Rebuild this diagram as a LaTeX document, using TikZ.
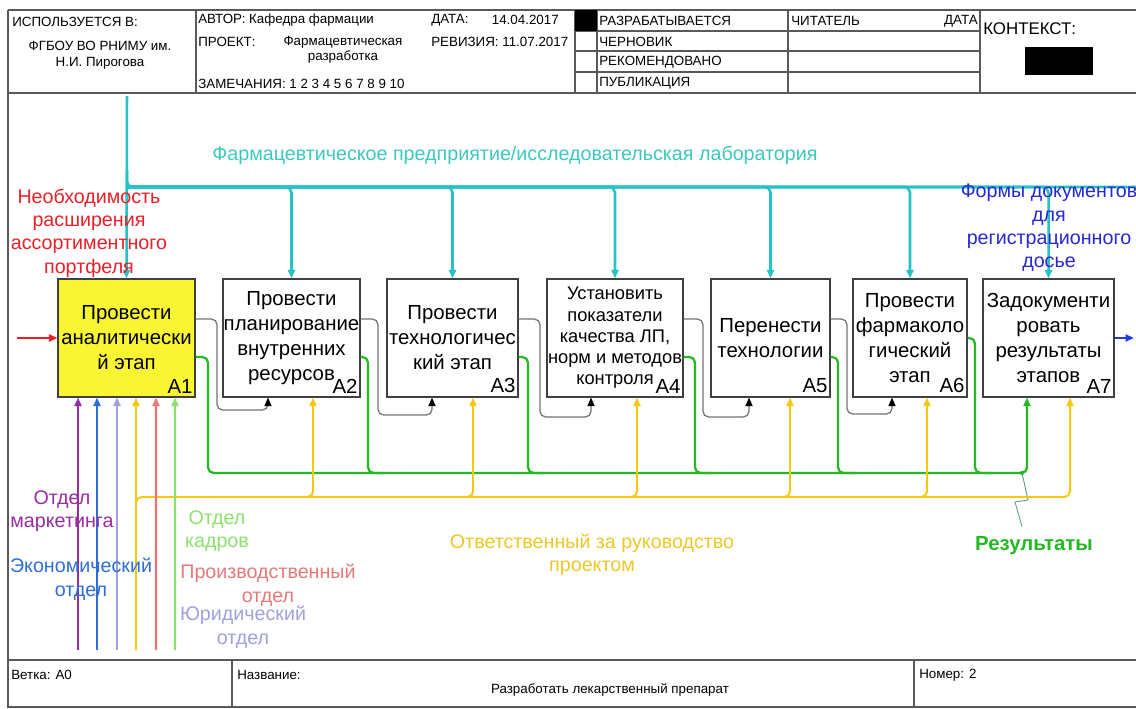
\documentclass[tikz,border=0pt]{standalone}
\usepackage{fontspec}
\setmainfont{Liberation Sans}
\usepackage{tikz}
\usetikzlibrary{positioning}
\usetikzlibrary{arrows.meta}

\definecolor{idcyan}{RGB}{38,194,196}
\definecolor{idcyantxt}{RGB}{60,200,190}
\definecolor{idred}{RGB}{232,32,40}
\definecolor{iddocblue}{RGB}{40,40,210}
\definecolor{idoutblue}{RGB}{30,60,230}
\definecolor{idpurple}{RGB}{150,45,160}
\definecolor{idecon}{RGB}{45,110,215}
\definecolor{idlav}{RGB}{160,160,225}
\definecolor{idyel}{RGB}{245,200,20}
\definecolor{idyeltxt}{RGB}{235,200,40}
\definecolor{idsalmon}{RGB}{232,120,120}
\definecolor{idlgreen}{RGB}{140,225,110}
\definecolor{idgreen}{RGB}{35,185,35}
\definecolor{idfill}{RGB}{250,245,50}
\definecolor{idsq}{RGB}{90,150,140}

\begin{document}
\begin{tikzpicture}[x=0.025cm,y=-0.025cm,
	proc/.style={draw=black!75,line width=0.8pt,minimum height=2.95cm,inner sep=0pt,align=center,font=\fontsize{14.5}{17.8}\selectfont},
	anum/.style={font=\fontsize{14.5}{16}\selectfont,inner sep=0pt},
	lbl/.style={align=center,font=\fontsize{14}{16.6}\selectfont,inner sep=0pt},
	hd/.style={font=\fontsize{9.5}{11}\selectfont,inner sep=0pt},
	frm/.style={draw=black!65,line width=0.8pt},
	atip/.style={-{Triangle[length=6pt,width=5pt]}},
	gtip/.style={-{Triangle[length=6pt,width=5pt,color=black]}},
	gry/.style={draw=black!55,line width=0.9pt,rounded corners=4pt,gtip},
	cyl/.style={draw=idcyan,line width=1.8pt,rounded corners=4pt},
	grl/.style={draw=idgreen,line width=1.6pt,rounded corners=4pt},
	yll/.style={draw=idyel,line width=1.4pt,rounded corners=4pt},
	ctl/.style={line width=1.6pt,atip}]
	\useasboundingbox (0,0) rectangle (1136,709);
	%% frame and header
	\draw[frm] (8,10) -- (1136,10);
	\draw[frm] (8,93) -- (1136,93);
	\draw[frm] (8,10) -- (8,707) -- (1136,707);
	\draw[frm] (196,10) -- (196,93);
	\draw[frm] (575,10) -- (575,93);
	\draw[frm] (597,10) -- (597,93);
	\draw[frm] (788,10) -- (788,93);
	\draw[frm] (980,10) -- (980,93);
	\draw[frm] (575,31) -- (980,31);
	\draw[frm] (575,51) -- (980,51);
	\draw[frm] (575,72) -- (980,72);
	\fill (575,10) rectangle (597,31);
	\fill (1025,47) rectangle (1093,75);
	\node[hd,anchor=west] (h1) at (12,22) {ИСПОЛЬЗУЕТСЯ В:};
	\node[hd,align=center] (h2) at (100,55) {ФГБОУ ВО РНИМУ им.\\Н.И. Пирогова};
	\node[hd,anchor=west] (h3) at (198,20) {АВТОР: Кафедра фармации};
	\node[hd,anchor=west] (h4) at (431,20) {ДАТА:};
	\node[hd,anchor=east] (h5) at (559,20) {14.04.2017};
	\node[hd,anchor=west] (h6) at (198,42) {ПРОЕКТ:};
	\node[hd,align=center] (h7) at (343,50) {Фармацевтическая\\разработка};
	\node[hd,anchor=west] (h8) at (431,42) {РЕВИЗИЯ: 11.07.2017};
	\node[hd,anchor=west] (h9) at (198,84) {ЗАМЕЧАНИЯ: 1 2 3 4 5 6 7 8 9 10};
	\node[hd,anchor=west] (s1) at (599,21) {РАЗРАБАТЫВАЕТСЯ};
	\node[hd,anchor=west] (s2) at (599,42) {ЧЕРНОВИК};
	\node[hd,anchor=west] (s3) at (599,62) {РЕКОМЕНДОВАНО};
	\node[hd,anchor=west] (s4) at (599,83) {ПУБЛИКАЦИЯ};
	\node[hd,anchor=west] (s5) at (791,21) {ЧИТАТЕЛЬ};
	\node[hd,anchor=east] (s6) at (978,21) {ДАТА};
	\node[anchor=west,inner sep=0pt,font=\fontsize{12}{14}\selectfont] (ctx) at (983,29) {КОНТЕКСТ:};
	%% footer
	\draw[frm] (8,660) -- (1136,660);
	\draw[frm] (232,660) -- (232,707);
	\draw[frm] (914,660) -- (914,707);
	\node[hd,anchor=west] (f1) at (11,675) {Ветка: A0};
	\node[hd,anchor=west] (f2) at (237,675) {Название:};
	\node[hd] (f3) at (610,690) {Разработать лекарственный препарат};
	\node[hd,anchor=west] (f4) at (919,675) {Номер: 2};
	%% blocks
	\node[proc,fill=idfill,minimum width=3.425cm] (b1) at (126.5,338) {Провести\\аналитически\\й этап};
	\node[proc,minimum width=3.425cm] (b2) at (291.5,338) {Провести\\планирование\\внутренних\\ресурсов};
	\node[proc,minimum width=3.275cm] (b3) at (452.5,338) {Провести\\технологичес\\кий этап};
	\node[proc,minimum width=3.4cm,font=\fontsize{13}{15.1}\selectfont] (b4) at (615,338) {Установить\\показатели\\качества ЛП,\\норм и методов\\контроля};
	\node[proc,minimum width=2.975cm] (b5) at (770.5,338) {Перенести\\технологии};
	\node[proc,minimum width=2.85cm] (b6) at (910,338) {Провести\\фармаколо\\гический\\этап};
	\node[proc,minimum width=3.275cm] (b7) at (1048.5,338) {Задокументи\\ровать\\результаты\\этапов};
	\node[anum,above left = 3pt and 2pt of b1.south east] (n1) {A1};
	\node[anum,above left = 3pt and 2pt of b2.south east] (n2) {A2};
	\node[anum,above left = 3pt and 2pt of b3.south east] (n3) {A3};
	\node[anum,above left = 3pt and 2pt of b4.south east] (n4) {A4};
	\node[anum,above left = 3pt and 2pt of b5.south east] (n5) {A5};
	\node[anum,above left = 3pt and 2pt of b6.south east] (n6) {A6};
	\node[anum,above left = 3pt and 2pt of b7.south east] (n7) {A7};
	% mechanism on top
	\coordinate (c0) at (127,96);
	\coordinate (c1) at (127,187);
	\coordinate (c2) at (1136,187);
	\draw[cyl,atip] (c0) -- (b1.north);
	\draw[cyl] (127,170) |- (c2);
	\draw[cyl,atip] (c1) -| (b2.north);
	\draw[cyl,atip] (c1) -| (b3.north);
	\draw[cyl,atip] (c1) -| (b4.north);
	\draw[cyl,atip] (c1) -| (b5.north);
	\draw[cyl,atip] (c1) -| (b6.north);
	\draw[cyl,atip] (c1) -| (b7.north);
	\node[lbl,text=idcyantxt] (mech) at (515,155) {Фармацевтическое предприятие/исследовательская лаборатория};
	% input and output
	\coordinate (in1) at (17,338);
	\coordinate (out1) at (1134,338);
	\draw[ctl,idred,line width=1.4pt] (in1) -- (b1.west);
	\draw[ctl,idoutblue,line width=1.4pt] (b7.east) -- (out1);
	\node[lbl,text=idred] (need) at (89,233) {Необходимость\\расширения\\ассортиментного\\портфеля};
	\node[lbl,text=iddocblue] (docs) at (1049,228) {Формы документов\\для\\регистрационного\\досье};
	% links between blocks
	\draw[gry] ([shift={(0,-19)}]b1.east) -| (217,410) -| ([shift={(-23.5,0)}]b2.south);
	\draw[gry] ([shift={(0,-19)}]b2.east) -| (378,415) -| ([shift={(-20.5,0)}]b3.south);
	\draw[gry] ([shift={(0,-19)}]b3.east) -| (540,417) -| ([shift={(-24,0)}]b4.south);
	\draw[gry] ([shift={(0,-19)}]b4.east) -| (703,417) -| ([shift={(-21.5,0)}]b5.south);
	\draw[gry] ([shift={(0,-19)}]b5.east) -| (847,414) -| ([shift={(-18,0)}]b6.south);
	% results (green)
	\draw[grl,atip] ([shift={(0,19)}]b1.east) -| (208,473) -| ([shift={(-21.5,0)}]b7.south);
	\draw[grl] ([shift={(0,19)}]b2.east) -| (368,473) -- (385,473);
	\draw[grl] ([shift={(0,19)}]b3.east) -| (528,473) -- (545,473);
	\draw[grl] ([shift={(0,19)}]b4.east) -| (695,473) -- (712,473);
	\draw[grl] ([shift={(0,19)}]b5.east) -| (838,473) -- (855,473);
	\draw[grl] (b6.east) -| (975,473) -- (992,473);
	\node[lbl,text=idgreen,font=\fontsize{14.5}{16.6}\selectfont\bfseries] (res) at (1034,546) {Результаты};
	\fill[idgreen] (1022,473) circle (1.5pt);
	\draw[idsq,line width=0.6pt] (1022,473) -- (1028,500) -- (1015,502) -- ([shift={(-12,-10)}]res.north);
	% controls (yellow)
	\coordinate (m4) at (136,650);
	\draw[yll,atip] (m4) -- ([shift={(9.5,0)}]b1.south);
	\draw[yll,atip] (136,530) |- (1070,497) -- ([shift={(21.5,0)}]b7.south);
	\draw[yll,atip] (290,497) -| ([shift={(21.5,0)}]b2.south);
	\draw[yll,atip] (450,497) -| ([shift={(20.5,0)}]b3.south);
	\draw[yll,atip] (615,497) -| ([shift={(22,0)}]b4.south);
	\draw[yll,atip] (770,497) -| ([shift={(19.5,0)}]b5.south);
	\draw[yll,atip] (905,497) -| ([shift={(17,0)}]b6.south);
	\node[lbl,text=idyeltxt] (lead) at (592,555) {Ответственный за руководство\\проектом};
	% departments
	\coordinate (m1) at (78,650);
	\coordinate (m2) at (97,650);
	\coordinate (m3) at (117,650);
	\coordinate (m5) at (156,650);
	\coordinate (m6) at (175,650);
	\draw[ctl,idpurple] (m1) -- ([shift={(-48.5,0)}]b1.south);
	\draw[ctl,idecon] (m2) -- ([shift={(-29.5,0)}]b1.south);
	\draw[ctl,idlav] (m3) -- ([shift={(-9.5,0)}]b1.south);
	\draw[ctl,idsalmon] (m5) -- ([shift={(29.5,0)}]b1.south);
	\draw[ctl,idlgreen] (m6) -- ([shift={(48.5,0)}]b1.south);
	\node[lbl,text=idpurple] (d1) at (62,511) {Отдел\\маркетинга};
	\node[lbl,text=idecon] (d2) at (81,579) {Экономический\\отдел};
	\node[lbl,text=idlgreen] (d3) at (217,531) {Отдел\\кадров};
	\node[lbl,text=idsalmon] (d4) at (268,585) {Производственный\\отдел};
	\node[lbl,text=idlav] (d5) at (243,627) {Юридический\\отдел};
\end{tikzpicture}
\end{document}
